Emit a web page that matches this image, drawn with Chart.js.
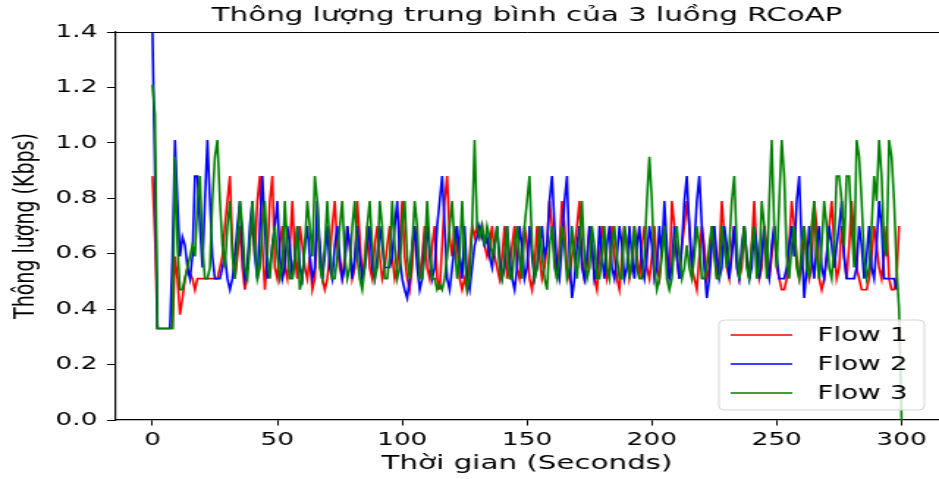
<!DOCTYPE html>
<html>
<head>
<meta charset="utf-8">
<script src="https://cdn.jsdelivr.net/npm/chart.js@4/dist/chart.umd.min.js"></script>
<style>
  html, body { margin: 0; padding: 0; background: #fff; overflow: hidden; }
  #wrap { width: 640px; height: 479px; transform: scaleX(1.4672); transform-origin: 0 0; }
</style>
</head>
<body>
<div id="wrap"><canvas id="c" width="640" height="479"></canvas></div>
<script>
// ---- data (seconds index, one value per second) ----
const seriesNames = ['Flow 1', 'Flow 2', 'Flow 3'];
const seriesColors = ['#ff0000', '#0000ff', '#008000'];
const xTicks = [0, 50, 100, 150, 200, 250, 300];
const yTicks = [0.0, 0.2, 0.4, 0.6, 0.8, 1.0, 1.2, 1.4];
const seconds = Array.from({ length: 301 }, (_, i) => i);

const flow1 = [
  0.88, 0.66, 0.33, 0.33, 0.33, 0.33, 0.33, 0.33, 0.33, 0.59,
  0.51, 0.38, 0.44, 0.51, 0.55, 0.53, 0.51, 0.47, 0.51, 0.51,
  0.51, 0.51, 0.51, 0.51, 0.51, 0.51, 0.51, 0.55, 0.59, 0.70,
  0.79, 0.88, 0.63, 0.51, 0.59, 0.70, 0.55, 0.47, 0.55, 0.66,
  0.70, 0.59, 0.79, 0.88, 0.63, 0.47, 0.59, 0.79, 0.88, 0.55,
  0.51, 0.63, 0.70, 0.55, 0.51, 0.63, 0.79, 0.59, 0.51, 0.70,
  0.63, 0.55, 0.51, 0.59, 0.47, 0.51, 0.70, 0.63, 0.51, 0.47,
  0.51, 0.59, 0.70, 0.79, 0.63, 0.55, 0.51, 0.59, 0.70, 0.63,
  0.51, 0.55, 0.79, 0.66, 0.51, 0.59, 0.70, 0.55, 0.51, 0.63,
  0.70, 0.59, 0.51, 0.55, 0.63, 0.70, 0.59, 0.51, 0.55, 0.66,
  0.79, 0.59, 0.51, 0.47, 0.55, 0.70, 0.63, 0.51, 0.59, 0.70,
  0.55, 0.51, 0.63, 0.70, 0.51, 0.47, 0.63, 0.79, 0.88, 0.66,
  0.59, 0.70, 0.63, 0.51, 0.47, 0.51, 0.47, 0.59, 0.70, 0.66,
  0.70, 0.66, 0.70, 0.63, 0.59, 0.63, 0.70, 0.59, 0.55, 0.51,
  0.59, 0.70, 0.51, 0.55, 0.63, 0.70, 0.55, 0.51, 0.59, 0.70,
  0.63, 0.51, 0.47, 0.55, 0.70, 0.59, 0.51, 0.55, 0.63, 0.79,
  0.70, 0.59, 0.51, 0.63, 0.79, 0.70, 0.55, 0.51, 0.59, 0.63,
  0.70, 0.79, 0.59, 0.51, 0.55, 0.70, 0.63, 0.51, 0.47, 0.59,
  0.70, 0.63, 0.51, 0.55, 0.70, 0.59, 0.51, 0.47, 0.59, 0.70,
  0.63, 0.51, 0.55, 0.70, 0.59, 0.51, 0.63, 0.70, 0.55, 0.51,
  0.59, 0.70, 0.55, 0.51, 0.63, 0.70, 0.59, 0.51, 0.79, 0.70,
  0.59, 0.51, 0.63, 0.70, 0.79, 0.70, 0.55, 0.51, 0.47, 0.59,
  0.70, 0.63, 0.51, 0.55, 0.70, 0.63, 0.51, 0.59, 0.79, 0.66,
  0.55, 0.51, 0.63, 0.70, 0.59, 0.51, 0.55, 0.70, 0.59, 0.51,
  0.63, 0.79, 0.59, 0.51, 0.55, 0.70, 0.63, 0.51, 0.59, 0.70,
  0.55, 0.51, 0.47, 0.47, 0.51, 0.63, 0.79, 0.70, 0.59, 0.51,
  0.55, 0.70, 0.59, 0.51, 0.55, 0.79, 0.70, 0.51, 0.47, 0.51,
  0.59, 0.70, 0.79, 0.63, 0.51, 0.55, 0.70, 0.59, 0.51, 0.63,
  0.79, 0.66, 0.55, 0.51, 0.47, 0.47, 0.47, 0.51, 0.59, 0.70,
  0.63, 0.55, 0.51, 0.59, 0.70, 0.51, 0.47, 0.47, 0.51, 0.70
];

const flow2 = [
  1.40, 0.88, 0.33, 0.33, 0.33, 0.33, 0.33, 0.33, 0.59, 1.01,
  0.79, 0.59, 0.66, 0.63, 0.55, 0.51, 0.59, 0.88, 0.88, 0.70,
  0.55, 0.79, 1.01, 0.79, 0.59, 0.51, 0.51, 0.51, 0.55, 0.59,
  0.51, 0.47, 0.51, 0.59, 0.70, 0.79, 0.63, 0.51, 0.55, 0.70,
  0.79, 0.59, 0.51, 0.70, 0.88, 0.70, 0.51, 0.55, 0.63, 0.70,
  0.79, 0.59, 0.51, 0.55, 0.70, 0.63, 0.51, 0.59, 0.70, 0.55,
  0.51, 0.63, 0.70, 0.59, 0.51, 0.55, 0.79, 0.63, 0.51, 0.59,
  0.70, 0.55, 0.51, 0.63, 0.70, 0.59, 0.51, 0.55, 0.70, 0.63,
  0.51, 0.59, 0.70, 0.59, 0.51, 0.55, 0.63, 0.70, 0.55, 0.51,
  0.59, 0.70, 0.63, 0.55, 0.55, 0.55, 0.59, 0.70, 0.79, 0.59,
  0.51, 0.47, 0.44, 0.51, 0.63, 0.70, 0.55, 0.47, 0.51, 0.63,
  0.70, 0.59, 0.51, 0.55, 0.70, 0.79, 0.88, 0.70, 0.51, 0.47,
  0.55, 0.63, 0.70, 0.59, 0.51, 0.70, 0.51, 0.47, 0.55, 0.63,
  0.66, 0.70, 0.66, 0.63, 0.66, 0.59, 0.55, 0.63, 0.70, 0.59,
  0.51, 0.55, 0.70, 0.59, 0.51, 0.47, 0.55, 0.70, 0.63, 0.51,
  0.55, 0.70, 0.59, 0.51, 0.55, 0.63, 0.70, 0.59, 0.63, 0.79,
  0.88, 0.70, 0.55, 0.51, 0.63, 0.79, 0.88, 0.59, 0.44, 0.51,
  0.63, 0.70, 0.55, 0.51, 0.59, 0.70, 0.63, 0.51, 0.55, 0.70,
  0.59, 0.51, 0.63, 0.70, 0.55, 0.51, 0.59, 0.70, 0.63, 0.51,
  0.55, 0.70, 0.59, 0.51, 0.63, 0.70, 0.55, 0.51, 0.59, 0.70,
  0.63, 0.51, 0.55, 0.70, 0.59, 0.79, 0.63, 0.51, 0.55, 0.70,
  0.59, 0.51, 0.63, 0.79, 0.88, 0.70, 0.55, 0.63, 0.79, 0.88,
  0.70, 0.55, 0.44, 0.51, 0.63, 0.70, 0.59, 0.51, 0.55, 0.70,
  0.63, 0.51, 0.59, 0.70, 0.55, 0.51, 0.63, 0.70, 0.59, 0.51,
  0.55, 0.70, 0.63, 0.51, 0.59, 0.70, 0.55, 0.51, 0.63, 0.70,
  0.59, 0.51, 0.51, 0.51, 0.55, 0.63, 0.70, 0.59, 0.79, 0.88,
  0.63, 0.44, 0.55, 0.70, 0.59, 0.51, 0.63, 0.70, 0.55, 0.51,
  0.59, 0.70, 0.63, 0.55, 0.63, 0.70, 0.79, 0.59, 0.51, 0.51,
  0.51, 0.51, 0.55, 0.70, 0.63, 0.51, 0.59, 0.70, 0.55, 0.51,
  0.63, 0.79, 0.70, 0.51, 0.51, 0.51, 0.51, 0.51, 0.47
];

const flow3 = [
  1.21, 1.10, 0.33, 0.33, 0.33, 0.33, 0.33, 0.33, 0.33, 0.95,
  0.63, 0.47, 0.47, 0.51, 0.55, 0.59, 0.63, 0.59, 0.79, 0.88,
  0.63, 0.51, 0.51, 0.55, 0.79, 0.95, 1.01, 0.79, 0.63, 0.55,
  0.70, 0.79, 0.59, 0.51, 0.63, 0.79, 0.70, 0.55, 0.51, 0.63,
  0.79, 0.63, 0.51, 0.55, 0.70, 0.79, 0.59, 0.51, 0.63, 0.70,
  0.59, 0.51, 0.55, 0.79, 0.63, 0.51, 0.51, 0.59, 0.70, 0.47,
  0.51, 0.63, 0.79, 0.70, 0.59, 0.88, 0.79, 0.55, 0.51, 0.63,
  0.79, 0.63, 0.51, 0.51, 0.59, 0.70, 0.79, 0.59, 0.51, 0.55,
  0.70, 0.79, 0.59, 0.51, 0.47, 0.55, 0.70, 0.79, 0.63, 0.51,
  0.55, 0.79, 0.70, 0.51, 0.51, 0.59, 0.79, 0.63, 0.51, 0.55,
  0.70, 0.79, 0.59, 0.51, 0.63, 0.79, 0.70, 0.51, 0.51, 0.59,
  0.79, 0.63, 0.51, 0.51, 0.47, 0.49, 0.47, 0.51, 0.59, 0.70,
  0.79, 0.63, 0.51, 0.59, 0.79, 0.59, 0.47, 0.51, 0.70, 1.01,
  0.70, 0.66, 0.70, 0.63, 0.70, 0.66, 0.59, 0.63, 0.70, 0.55,
  0.51, 0.59, 0.70, 0.51, 0.51, 0.63, 0.70, 0.59, 0.51, 0.70,
  0.79, 0.88, 0.63, 0.51, 0.55, 0.70, 0.59, 0.51, 0.47, 0.63,
  0.70, 0.55, 0.51, 0.59, 0.70, 0.63, 0.51, 0.55, 0.70, 0.59,
  0.51, 0.63, 0.79, 0.59, 0.51, 0.55, 0.70, 0.63, 0.51, 0.51,
  0.59, 0.70, 0.55, 0.51, 0.63, 0.70, 0.59, 0.51, 0.51, 0.70,
  0.63, 0.51, 0.59, 0.70, 0.55, 0.51, 0.51, 0.59, 0.79, 0.95,
  0.79, 0.55, 0.47, 0.51, 0.59, 0.70, 0.51, 0.47, 0.51, 0.63,
  0.70, 0.59, 0.51, 0.55, 0.63, 0.55, 0.51, 0.59, 0.70, 0.63,
  0.51, 0.51, 0.55, 0.63, 0.70, 0.59, 0.51, 0.51, 0.70, 0.63,
  0.55, 0.63, 0.79, 0.88, 0.63, 0.51, 0.59, 0.70, 0.55, 0.51,
  0.63, 0.70, 0.51, 0.55, 0.79, 0.70, 0.51, 0.79, 1.01, 0.70,
  0.55, 0.79, 1.01, 0.88, 0.59, 0.51, 0.63, 0.70, 0.55, 0.51,
  0.63, 0.70, 0.55, 0.51, 0.70, 0.79, 0.59, 0.51, 0.63, 0.79,
  0.70, 0.55, 0.51, 0.63, 0.88, 0.88, 0.79, 0.63, 0.88, 0.88,
  0.70, 0.55, 1.01, 0.95, 0.79, 0.59, 0.51, 0.55, 0.70, 0.88,
  0.79, 1.01, 0.88, 0.63, 0.59, 1.01, 0.95, 0.79, 0.55, 0.40,
  0.00
];

const seriesValues = [flow1, flow2, flow3];
const FONT = "'DejaVu Sans', sans-serif";

function toPoints(values) {
  return values.map((v, i) => ({ x: seconds[i], y: v }));
}

const datasets = seriesValues.map((vals, k) => ({
  label: seriesNames[k],
  data: toPoints(vals),
  borderColor: seriesColors[k],
  backgroundColor: seriesColors[k],
  borderWidth: 1.6,
  pointRadius: 0,
  tension: 0,
  fill: false,
  order: 3 - k
}));

const framePlugin = {
  id: 'frame',
  afterDraw(chart) {
    const { ctx, chartArea: a } = chart;
    ctx.save();
    // top spine
    ctx.strokeStyle = '#000';
    ctx.lineWidth = 1;
    ctx.beginPath();
    ctx.moveTo(a.left, a.top + 0.5);
    ctx.lineTo(a.right, a.top + 0.5);
    ctx.stroke();
    // legend box (lower right)
    const w = 140, h = 90;
    const bx = a.right - 10 - w, by = a.bottom - 10 - h;
    const r = 4;
    ctx.beginPath();
    ctx.moveTo(bx + r, by);
    ctx.lineTo(bx + w - r, by);
    ctx.quadraticCurveTo(bx + w, by, bx + w, by + r);
    ctx.lineTo(bx + w, by + h - r);
    ctx.quadraticCurveTo(bx + w, by + h, bx + w - r, by + h);
    ctx.lineTo(bx + r, by + h);
    ctx.quadraticCurveTo(bx, by + h, bx, by + h - r);
    ctx.lineTo(bx, by + r);
    ctx.quadraticCurveTo(bx, by, bx + r, by);
    ctx.closePath();
    ctx.fillStyle = 'rgba(255,255,255,0.8)';
    ctx.fill();
    ctx.strokeStyle = '#d6d6d6';
    ctx.lineWidth = 1;
    ctx.stroke();
    ctx.font = '19px ' + FONT;
    ctx.textBaseline = 'middle';
    ctx.textAlign = 'left';
    chart.data.datasets.forEach((ds, i) => {
      const yy = by + 15 + i * 29;
      ctx.strokeStyle = ds.borderColor;
      ctx.lineWidth = 1.6;
      ctx.beginPath();
      ctx.moveTo(bx + 8, yy);
      ctx.lineTo(bx + 50, yy);
      ctx.stroke();
      ctx.fillStyle = '#000';
      ctx.fillText(ds.label, bx + 67, yy + 1);
    });
    ctx.restore();
  }
};

new Chart(document.getElementById('c'), {
  type: 'line',
  data: { datasets },
  plugins: [framePlugin],
  options: {
    responsive: false,
    animation: false,
    layout: { padding: { left: 0, right: -2.5, top: 0, bottom: 0 } },
    plugins: {
      legend: { display: false },
      tooltip: { enabled: false },
      title: {
        display: true,
        text: 'Thông lượng trung bình của 3 luồng RCoAP',
        fullSize: false,
        color: '#000',
        font: { family: FONT, size: 20, weight: 'normal', lineHeight: 1.2 },
        padding: { top: 4, bottom: 4 }
      }
    },
    scales: {
      x: {
        type: 'linear',
        min: -15,
        max: 315,
        afterBuildTicks: (s) => { s.ticks = xTicks.map(v => ({ value: v })); },
        afterFit: (s) => { s.height = 59; },
        grid: { display: true, drawOnChartArea: false, drawTicks: true, tickLength: 5.5, color: '#000', lineWidth: 1 },
        border: { display: true, color: '#000', width: 1.2 },
        ticks: { color: '#000', font: { family: FONT, size: 18 }, padding: 4, maxRotation: 0, autoSkip: false,
                 callback: (v) => String(v) },
        title: { display: true, text: 'Thời gian (Seconds)', color: '#000',
                 font: { family: FONT, size: 20, lineHeight: 1.2 }, padding: { top: 0, bottom: 3 } }
      },
      y: {
        type: 'linear',
        min: 0,
        max: 1.4,
        afterBuildTicks: (s) => { s.ticks = yTicks.map(v => ({ value: v })); },
        afterFit: (s) => { s.width = 78.4; },
        grid: { display: true, drawOnChartArea: false, drawTicks: true, tickLength: 5.5, color: '#000', lineWidth: 1 },
        border: { display: true, color: '#000', width: 1.2 },
        ticks: { color: '#000', font: { family: FONT, size: 18 }, padding: 6.5, autoSkip: false,
                 callback: (v) => Number(v).toFixed(1) },
        title: { display: true, text: 'Thông lượng (Kbps)', color: '#000',
                 font: { family: FONT, size: 19, lineHeight: 1.2 }, padding: { top: 6.3, bottom: 0 } }
      }
    }
  }
});
</script>
</body>
</html>
